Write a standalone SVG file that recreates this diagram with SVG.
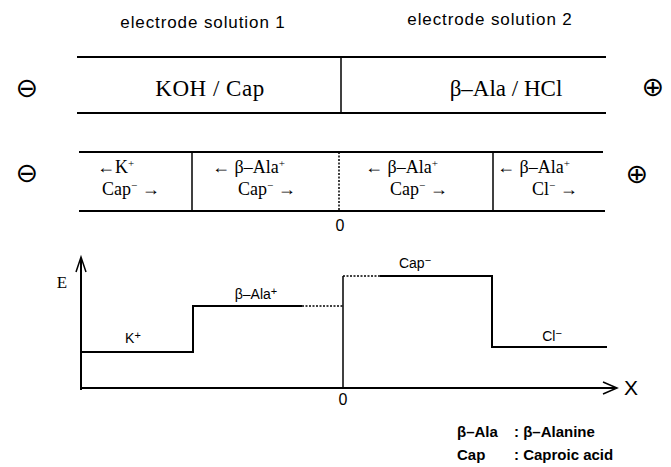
<svg xmlns="http://www.w3.org/2000/svg" width="671" height="467" viewBox="0 0 671 467">
<style>
.ln{stroke:#000;stroke-width:2;fill:none}
.thin{stroke:#000;stroke-width:1.5;fill:none}
.dot{stroke:#000;stroke-width:1.5;fill:none;stroke-dasharray:2 1.5}
.hdr{font-family:"Liberation Sans",Arial,sans-serif;font-size:17px;letter-spacing:0.9px}
.big{font-family:"Liberation Serif","Times New Roman",serif;font-size:23px}
.cell{font-family:"Liberation Serif","Times New Roman",serif;font-size:18px}
.lbl{font-family:"Liberation Sans",Arial,sans-serif;font-size:14px}
.sym{font-family:"DejaVu Sans",sans-serif;font-size:27px}
.leg{font-family:"Liberation Sans",Arial,sans-serif;font-size:15px;font-weight:bold}
.sup{font-size:11px}
</style>
<rect width="671" height="467" fill="#fff"/>

<g id="headers">
<text class="hdr" x="203" y="28" text-anchor="middle">electrode  solution  1</text>
<text class="hdr" x="490" y="25" text-anchor="middle">electrode  solution  2</text>
</g>

<g id="row1">
<line class="ln" x1="77" y1="57" x2="606" y2="57"/>
<line class="ln" x1="77" y1="113" x2="606" y2="113"/>
<line class="thin" x1="341" y1="57" x2="341" y2="113"/>
<text class="sym" x="27" y="97" text-anchor="middle">⊖</text>
<text class="sym" x="653" y="96" text-anchor="middle">⊕</text>
<text class="big" x="210" y="96" text-anchor="middle" letter-spacing="0.5">KOH / Cap</text>
<text class="big" x="506" y="96" text-anchor="middle">β–Ala / HCl</text>
</g>

<g id="row2">
<line class="ln" x1="79" y1="152" x2="603" y2="152"/>
<line class="ln" x1="79" y1="211" x2="605" y2="211"/>
<line class="thin" x1="192" y1="152" x2="192" y2="211"/>
<line class="dot" x1="339" y1="152" x2="339" y2="211"/>
<line class="thin" x1="493" y1="152" x2="493" y2="211"/>
<text class="sym" x="27" y="182" text-anchor="middle">⊖</text>
<text class="sym" x="637" y="183" text-anchor="middle">⊕</text>
<text class="cell" x="97" y="173">←K<tspan class="sup" dy="-6">+</tspan></text>
<text class="cell" x="102" y="195">Cap<tspan class="sup" dy="-6">−</tspan><tspan dy="6"> →</tspan></text>
<text class="cell" x="212" y="173">← β–Ala<tspan class="sup" dy="-6">+</tspan></text>
<text class="cell" x="238" y="195">Cap<tspan class="sup" dy="-6">−</tspan><tspan dy="6"> →</tspan></text>
<text class="cell" x="365" y="173">← β–Ala<tspan class="sup" dy="-6">+</tspan></text>
<text class="cell" x="390" y="195">Cap<tspan class="sup" dy="-6">−</tspan><tspan dy="6"> →</tspan></text>
<text class="cell" x="497" y="173">← β–Ala<tspan class="sup" dy="-6">+</tspan></text>
<text class="cell" x="532" y="195">Cl<tspan class="sup" dy="-6">−</tspan><tspan dy="6">  →</tspan></text>
<text x="340" y="231" text-anchor="middle" style="font-family:'Liberation Sans',Arial,sans-serif;font-size:16px">0</text>
</g>

<g id="axes">
<line class="ln" x1="81" y1="390" x2="81" y2="258"/>
<polyline class="thin" points="76,272 81,257 86,272"/>
<line class="ln" x1="81" y1="388" x2="615" y2="388"/>
<polyline class="thin" points="603,382 617,388 603,394"/>
<text class="cell" x="62" y="288" text-anchor="middle" style="font-size:17px">E</text>
<text x="631" y="395" text-anchor="middle" style="font-family:'Liberation Sans',Arial,sans-serif;font-size:21px">X</text>
<text x="343" y="405" text-anchor="middle" style="font-family:'Liberation Sans',Arial,sans-serif;font-size:16px">0</text>
</g>

<g id="connectors">
<polyline class="ln" points="81,352 193,352 193,306 302,306"/>
<line class="dot" x1="302" y1="306" x2="343" y2="306"/>
<line class="thin" x1="343" y1="276" x2="343" y2="388"/>
<line class="dot" x1="343" y1="276" x2="380" y2="276"/>
<polyline class="ln" points="380,276 492,276 492,347 607,347"/>
</g>

<g id="levels">
<text class="lbl" x="133" y="343" text-anchor="middle">K<tspan class="sup" dy="-4">+</tspan></text>
<text class="lbl" x="256" y="299" text-anchor="middle">β–Ala<tspan class="sup" dy="-4">+</tspan></text>
<text class="lbl" x="415" y="268" text-anchor="middle">Cap<tspan class="sup" dy="-4">−</tspan></text>
<text class="lbl" x="552" y="341" text-anchor="middle">Cl<tspan class="sup" dy="-4">−</tspan></text>
</g>

<g id="legend">
<text class="leg" x="457" y="437">β–Ala</text>
<text class="leg" x="514" y="437">:  β–Alanine</text>
<text class="leg" x="457" y="460">Cap</text>
<text class="leg" x="514" y="460">:  Caproic acid</text>
</g>
</svg>
